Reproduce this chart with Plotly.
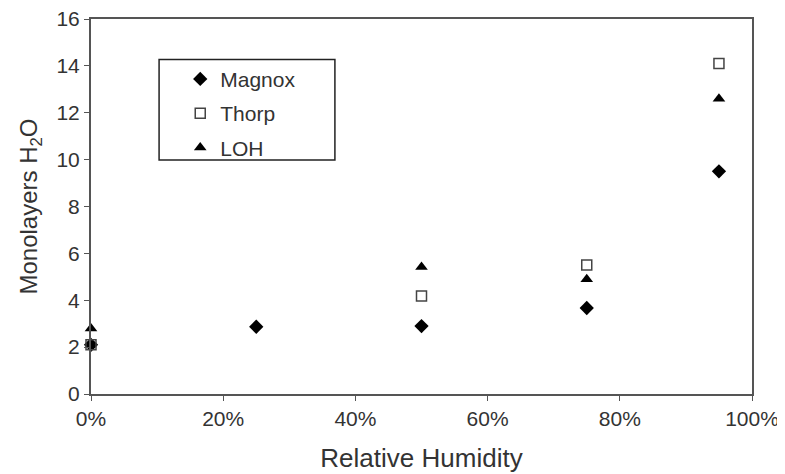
import plotly.graph_objects as go

rh_magnox = [0.0, 0.25, 0.50, 0.75, 0.95]
magnox = [2.1, 2.87, 2.9, 3.67, 9.5]
rh_thorp = [0.0, 0.50, 0.75, 0.95]
thorp = [2.1, 4.18, 5.5, 14.1]
rh_loh = [0.0, 0.50, 0.75, 0.95]
loh = [2.8, 5.42, 4.9, 12.6]

font = "Liberation Sans, Arial, sans-serif"
fig = go.Figure()
fig.add_trace(go.Scatter(x=rh_magnox, y=magnox, mode="markers", name="Magnox",
                         legendgroup="a",
                         marker=dict(symbol="diamond", size=11, color="black")))
fig.add_trace(go.Scatter(x=rh_thorp, y=thorp, mode="markers", name="Thorp",
                         legendgroup="b",
                         marker=dict(symbol="square-open", size=10, color="#444",
                                     line=dict(width=1.5))))
fig.add_trace(go.Scatter(x=rh_loh, y=loh, mode="markers", name="LOH",
                         legendgroup="c",
                         marker=dict(symbol="triangle-up", size=11, color="black")))

# legend frame drawn as a shape
fig.add_shape(type="rect", xref="x domain", yref="y domain",
              x0=0.103, x1=0.369, y0=0.624, y1=0.892,
              line=dict(color="#222", width=1.5), fillcolor="rgba(0,0,0,0)")

fig.update_layout(
    width=777, height=466,
    margin=dict(l=83, r=33, t=11, b=80),
    paper_bgcolor="white", plot_bgcolor="white",
    font=dict(family=font, size=20, color="#333"),
    showlegend=True,
    legend=dict(x=0.135, y=0.894, xanchor="left", yanchor="top",
                borderwidth=0, bgcolor="rgba(0,0,0,0)",
                font=dict(size=21, color="#333"),
                itemwidth=30, tracegroupgap=4),
    xaxis=dict(range=[0, 1], tickvals=[0, 0.2, 0.4, 0.6, 0.8, 1.0],
               ticktext=["0%", "20%", "40%", "60%", "80%", "100%"],
               automargin=False, ticklabeloverflow="allow",
               showgrid=False, zeroline=False, showline=True, linecolor="#555",
               linewidth=2, mirror=True, ticks="outside", ticklen=5,
               tickcolor="#555", tickfont=dict(size=21),
               title=dict(text="Relative Humidity", font=dict(size=26), standoff=20)),
    yaxis=dict(range=[0, 16], tickvals=list(range(0, 17, 2)),
               automargin=False, ticklabeloverflow="allow",
               showgrid=False, zeroline=False, showline=True, linecolor="#555",
               linewidth=2, mirror=True, ticks="outside", ticklen=5,
               tickcolor="#555", tickfont=dict(size=21),
               title=dict(text="Monolayers H<sub>2</sub>O", font=dict(size=24), standoff=12)),
)
fig.update_traces(cliponaxis=False)
fig.write_html("out.html")
